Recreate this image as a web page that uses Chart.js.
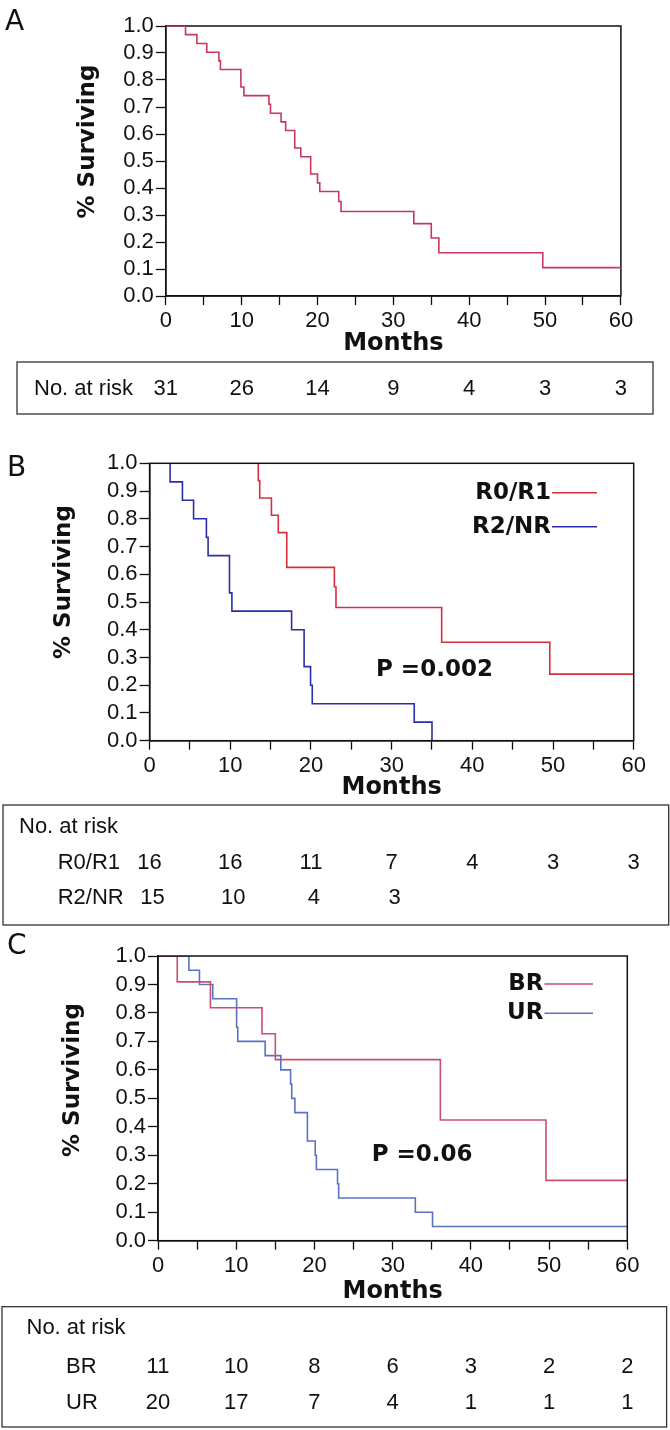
<!DOCTYPE html>
<html>
<head>
<meta charset="utf-8">
<script src="https://cdn.jsdelivr.net/npm/chart.js@4.4.1/dist/chart.umd.min.js"></script>
<style>
  html, body { margin: 0; padding: 0; background: #fff; }
  #wrap { position: relative; width: 670px; height: 1430px; }
  canvas { position: absolute; left: 0; }
</style>
</head>
<body>
<div id="wrap">
  <canvas id="chartA" style="top:0px"></canvas>
  <canvas id="chartB" style="top:425px"></canvas>
  <canvas id="chartC" style="top:930px"></canvas>
</div>
<script>
// months at which the number at risk is reported
const riskMonths = [0, 10, 20, 30, 40, 50, 60];

// Panel A - all patients
const monthsAll = [0, 2.6, 4.1, 5.4, 7.0, 7.2, 9.9, 10.3, 13.6, 13.8, 15.2, 15.8, 17.0, 17.8, 19.1, 20.0, 20.3, 22.8, 23.1, 32.7, 35.0, 36.0, 49.7, 60];
const survAll   = [1.0, 0.968, 0.935, 0.903, 0.871, 0.839, 0.774, 0.742, 0.710, 0.677, 0.645, 0.613, 0.548, 0.516, 0.452, 0.419, 0.387, 0.350, 0.313, 0.268, 0.215, 0.160, 0.105, 0.105];
const riskAll   = [31, 26, 14, 9, 4, 3, 3];

// Panel B - resection status
const monthsR01  = [0, 13.47, 13.65, 15.1, 15.95, 17.0, 22.9, 23.1, 36.2, 49.6, 60];
const survR01    = [1.0, 0.9375, 0.875, 0.8125, 0.75, 0.625, 0.555, 0.48, 0.355, 0.24, 0.24];
const monthsR2NR = [0, 2.54, 4.07, 5.45, 7.04, 7.25, 9.9, 10.2, 17.6, 19.15, 19.95, 20.16, 32.8, 35.0];
const survR2NR   = [1.0, 0.933, 0.867, 0.8, 0.733, 0.667, 0.533, 0.467, 0.4, 0.267, 0.2, 0.133, 0.067, 0.0];
const riskR01    = [16, 16, 11, 7, 4, 3, 3];
const riskR2NR   = [15, 10, 4, 3];

// Panel C - resectability
const monthsBR = [0, 2.46, 6.7, 13.3, 15.0, 36.1, 49.6, 60];
const survBR   = [1.0, 0.909, 0.818, 0.727, 0.636, 0.424, 0.212, 0.212];
const monthsUR = [0, 3.95, 5.3, 7.0, 10.05, 10.2, 13.7, 15.7, 16.95, 17.1, 17.5, 19.1, 20.1, 20.25, 22.95, 23.1, 32.9, 35.1, 60];
const survUR   = [1.0, 0.95, 0.90, 0.85, 0.75, 0.70, 0.65, 0.60, 0.55, 0.50, 0.45, 0.35, 0.30, 0.25, 0.20, 0.15, 0.10, 0.05, 0.05];
const riskBR   = [11, 10, 8, 6, 3, 2, 2];
const riskUR   = [20, 17, 7, 4, 1, 1, 1];

const BOLD_FONT = "'DejaVu Sans', 'Liberation Sans', sans-serif";
const FONT = "'Liberation Sans', Arial, sans-serif";
const INK = '#111';

function kmPoints(months, surv) {
    return months.map((m, i) => ({ x: m, y: surv[i] }));
}

function makePanel(id, p) {
    const canvas = document.getElementById(id);
    canvas.width = 670;
    canvas.height = p.height;
    const AXIS_W = 50, AXIS_H = 40;

    // full box around the plot area
    const framePlugin = {
        id: 'frame',
        [p.frameOnTop ? 'afterDatasetsDraw' : 'beforeDatasetsDraw'](chart) {
            const a = chart.chartArea, ctx = chart.ctx;
            ctx.save();
            ctx.strokeStyle = INK;
            ctx.lineWidth = 1.5;
            ctx.strokeRect(a.left, a.top, a.right - a.left, a.bottom - a.top);
            ctx.restore();
        }
    };

    // labels, legend, p value and the at-risk table
    const textPlugin = {
        id: 'texts',
        afterDraw(chart) {
            const ctx = chart.ctx;
            const xs = chart.scales.x;
            ctx.save();
            ctx.fillStyle = INK;
            ctx.textBaseline = 'middle';

            ctx.font = `28px ${BOLD_FONT}`;
            ctx.textAlign = 'left';
            ctx.fillText(p.letter, p.letterPos[0], p.letterPos[1]);

            ctx.save();
            ctx.translate(p.yTitle[0], p.yTitle[1]);
            ctx.rotate(-Math.PI / 2);
            ctx.font = `bold 23px ${BOLD_FONT}`;
            ctx.textAlign = 'center';
            ctx.fillText('% Surviving', 0, 0);
            ctx.restore();

            ctx.font = `bold 24px ${BOLD_FONT}`;
            ctx.textAlign = 'center';
            ctx.fillText('Months', (chart.chartArea.left + chart.chartArea.right) / 2, p.monthsY);

            if (p.pValue) {
                ctx.font = `bold 23px ${BOLD_FONT}`;
                ctx.textAlign = 'left';
                ctx.fillText(p.pValue.text, p.pValue.x, p.pValue.y);
            }

            if (p.legend) {
                p.series.forEach((s, i) => {
                    const y = p.legend.y[i];
                    ctx.font = `bold 23px ${BOLD_FONT}`;
                    ctx.textAlign = 'right';
                    ctx.fillStyle = INK;
                    ctx.fillText(s.name, p.legend.x, y);
                    ctx.strokeStyle = s.color;
                    ctx.lineWidth = 1.6;
                    ctx.beginPath();
                    ctx.moveTo(p.legend.x + 1, y);
                    ctx.lineTo(p.legend.lineEnd, y);
                    ctx.stroke();
                });
            }

            const t = p.table;
            ctx.strokeStyle = '#333';
            ctx.lineWidth = 1.3;
            ctx.strokeRect(t.box[0], t.box[1], t.box[2], t.box[3]);
            ctx.fillStyle = INK;
            ctx.font = `22px ${FONT}`;
            ctx.textAlign = 'left';
            ctx.fillText('No. at risk', t.titlePos[0], t.titlePos[1]);
            t.rows.forEach(r => {
                ctx.textAlign = 'left';
                if (r.label) ctx.fillText(r.label, t.labelX, r.y);
                ctx.textAlign = 'center';
                r.counts.forEach((n, i) => {
                    ctx.fillText(String(n), xs.getPixelForValue(riskMonths[i]) + (r.dx || 0), r.y);
                });
            });
            ctx.restore();
        }
    };

    return new Chart(canvas, {
        type: 'line',
        data: {
            datasets: p.series.map(s => ({
                label: s.name,
                data: kmPoints(s.months, s.surv),
                borderColor: s.color,
                borderWidth: 1.6,
                stepped: true,
                pointRadius: 0,
                fill: false
            }))
        },
        options: {
            responsive: false,
            animation: false,
            events: [],
            layout: {
                padding: {
                    left: p.area.left - AXIS_W,
                    top: p.area.top,
                    right: 670 - p.area.right,
                    bottom: p.height - p.area.bottom - AXIS_H
                }
            },
            plugins: {
                legend: { display: false },
                tooltip: { enabled: false }
            },
            scales: {
                x: {
                    type: 'linear',
                    min: 0,
                    max: 60,
                    afterFit: s => { s.height = AXIS_H; },
                    ticks: {
                        stepSize: 5,
                        autoSkip: false,
                        maxRotation: 0,
                        padding: 3,
                        color: INK,
                        font: { family: FONT, size: 22 },
                        callback: v => (v % 10 === 0 ? String(v) : '')
                    },
                    grid: { drawOnChartArea: false, tickLength: 9, tickColor: INK, tickWidth: 1.3 },
                    border: { display: true, color: INK, width: 1.5 }
                },
                y: {
                    min: 0,
                    max: 1,
                    afterFit: s => { s.width = AXIS_W; },
                    ticks: {
                        stepSize: 0.1,
                        autoSkip: false,
                        padding: 2,
                        color: INK,
                        font: { family: FONT, size: 22 },
                        callback: v => Number(v).toFixed(1)
                    },
                    grid: { drawOnChartArea: false, tickLength: 10, tickColor: INK, tickWidth: 1.3 },
                    border: { display: true, color: INK, width: 1.5 }
                }
            }
        },
        plugins: [framePlugin, textPlugin]
    });
}

// Panel A
makePanel('chartA', {
    height: 425,
    area: { left: 165.8, top: 26, right: 620.9, bottom: 296 },
    frameOnTop: false,
    letter: 'A', letterPos: [5, 23],
    yTitle: [87.6, 141.5],
    monthsY: 344,
    series: [{ name: 'All', months: monthsAll, surv: survAll, color: '#c6385c' }],
    table: {
        box: [17, 362, 636, 52],
        titlePos: [34, 389],
        labelX: 0,
        rows: [{ label: null, y: 389, counts: riskAll }]
    }
});

// Panel B
makePanel('chartB', {
    height: 505,
    area: { left: 149.6, top: 38.3, right: 633.7, bottom: 315.7 },
    frameOnTop: true,
    letter: 'B', letterPos: [7, 44],
    yTitle: [64, 157],
    monthsY: 363,
    pValue: { text: 'P =0.002', x: 376, y: 245 },
    legend: { x: 551, lineEnd: 597, y: [67.7, 101.7] },
    series: [
        { name: 'R0/R1', months: monthsR01, surv: survR01, color: '#d2303c' },
        { name: 'R2/NR', months: monthsR2NR, surv: survR2NR, color: '#2c2ea8' }
    ],
    table: {
        box: [3, 380, 665.7, 120],
        titlePos: [19, 401.7],
        labelX: 57.7,
        rows: [
            { label: 'R0/R1', y: 437.7, counts: riskR01 },
            { label: 'R2/NR', y: 473, counts: riskR2NR, dx: 3 }
        ]
    }
});

// Panel C
makePanel('chartC', {
    height: 500,
    area: { left: 158, top: 26, right: 627.3, bottom: 310.7 },
    frameOnTop: true,
    letter: 'C', letterPos: [7, 16.5],
    yTitle: [72.6, 150],
    monthsY: 361.7,
    pValue: { text: 'P =0.06', x: 371.7, y: 225 },
    legend: { x: 543.5, lineEnd: 593, y: [54, 83.3] },
    series: [
        { name: 'BR', months: monthsBR, surv: survBR, color: '#c8506c' },
        { name: 'UR', months: monthsUR, surv: survUR, color: '#5a72c2' }
    ],
    table: {
        box: [2, 376.7, 664.6, 120.3],
        titlePos: [26.5, 398],
        labelX: 66,
        rows: [
            { label: 'BR', y: 436.7, counts: riskBR },
            { label: 'UR', y: 472.7, counts: riskUR }
        ]
    }
});
</script>
</body>
</html>
